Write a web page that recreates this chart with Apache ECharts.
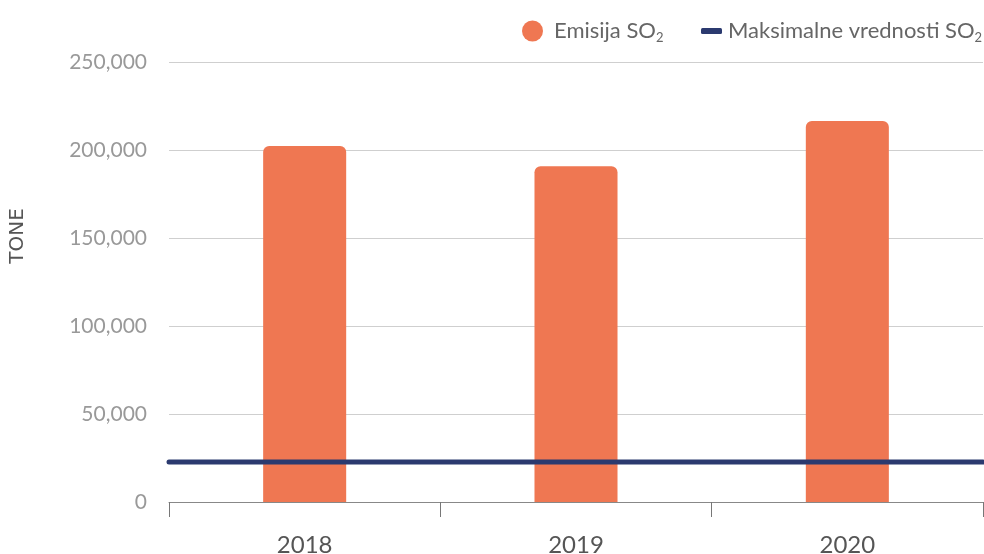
<!DOCTYPE html>
<html>
<head>
<meta charset="utf-8">
<script src="https://cdn.jsdelivr.net/npm/echarts@6/dist/echarts.min.js"></script>
<style>
  html, body { margin: 0; padding: 0; background: #fff; }
  #chart { width: 984px; height: 554px; }
</style>
</head>
<body>
<div id="chart"></div>
<script>
// SO2 emissions per year against the permitted maximum (tonnes)
const years = ['2018', '2019', '2020'];
const emissions = [202300, 190800, 216500];
const maxLimit = 22700;
const yTicks = [0, 50000, 100000, 150000, 200000, 250000];
const unitLabel = 'TONE';

const FONT = 'Lato';
const sub2 = name => name.replace(/2$/, '{sub|2}');
const legendText = (padLeft) => ({
  fontFamily: FONT, fontSize: 22, color: '#666',
  padding: [0, 0, 0, padLeft],
  rich: {
    sub: { fontFamily: FONT, fontSize: 13, color: '#666', padding: [14, 0, 0, 0] }
  }
});

const chart = echarts.init(document.getElementById('chart'));
chart.setOption({
  animation: false,
  textStyle: { fontFamily: FONT },
  grid: { left: 169, right: 1, top: 62, bottom: 52, containLabel: false, outerBoundsMode: 'none' },
  legend: [
    {
      data: ['Emisija SO2'], left: 517, top: 15,
      icon: 'circle', itemWidth: 21, itemHeight: 21,
      formatter: sub2, textStyle: legendText(6)
    },
    {
      data: ['Maksimalne vrednosti SO2'], left: 696, top: 15,
      icon: 'roundRect', itemWidth: 21, itemHeight: 6,
      formatter: sub2, textStyle: legendText(1)
    }
  ],
  // unit caption beside the value axis
  graphic: [{
    type: 'text', x: 18, y: 236, rotation: Math.PI / 2,
    style: {
      text: unitLabel, fontFamily: 'DejaVu Sans', fontSize: 20, fill: '#555',
      align: 'center', verticalAlign: 'middle'
    }
  }],
  xAxis: [
    {
      type: 'category', data: years,
      axisLine: { show: true, lineStyle: { color: '#888', width: 1 } },
      axisTick: { show: true, length: 15, lineStyle: { color: '#777' } },
      axisLabel: { fontFamily: FONT, fontSize: 24, color: '#555', margin: 31 }
    },
    { type: 'value', min: 0, max: 3, show: false }
  ],
  yAxis: {
    type: 'value', min: yTicks[0], max: yTicks[yTicks.length - 1], interval: 50000,
    axisLine: { show: false }, axisTick: { show: false },
    splitLine: { lineStyle: { color: '#cfcfcf', width: 1 } },
    axisLabel: {
      fontFamily: FONT, fontSize: 21, color: '#999', margin: 22,
      formatter: v => v.toLocaleString('en-US')
    }
  },
  series: [
    {
      name: 'Emisija SO2', type: 'bar', data: emissions,
      barWidth: '30.6%',
      itemStyle: { color: '#ef7752', borderRadius: [6, 6, 0, 0] }
    },
    {
      name: 'Maksimalne vrednosti SO2', type: 'line',
      xAxisIndex: 1,
      data: [[0, maxLimit], [3, maxLimit]],
      symbol: 'none',
      lineStyle: { color: '#2b3a6f', width: 5, cap: 'round' },
      itemStyle: { color: '#2b3a6f' },
      z: 5
    }
  ]
});
</script>
</body>
</html>
